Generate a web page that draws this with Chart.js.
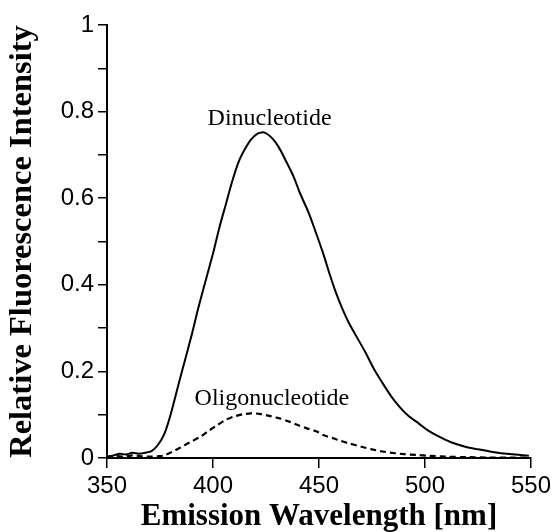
<!DOCTYPE html>
<html>
<head>
<meta charset="utf-8">
<script src="https://cdn.jsdelivr.net/npm/chart.js@4/dist/chart.umd.min.js"></script>
<style>
html,body{margin:0;padding:0;background:#fff;}
#wrap{width:555px;height:532px;}
</style>
</head>
<body>
<div id="wrap"><canvas id="c" width="555" height="532"></canvas></div>
<script>
// Data
const dinucWavelength = [350,353,356,359,362,365,368,371,374,377,380,384,387,390,393,397,400,403,406,409,412,415,418,421,423,425,428,431,434,438,441,445,448,452,455,458,461,464,468,472,476,480,484,488,492,497,501,506,512,519,525,532,540,549];
const dinucIntensity  = [0.003,0.006,0.010,0.008,0.012,0.010,0.012,0.016,0.030,0.055,0.100,0.175,0.230,0.285,0.345,0.418,0.472,0.532,0.585,0.638,0.683,0.713,0.736,0.749,0.752,0.750,0.738,0.718,0.690,0.650,0.612,0.568,0.528,0.472,0.425,0.382,0.345,0.313,0.278,0.243,0.205,0.173,0.143,0.118,0.098,0.080,0.065,0.051,0.037,0.026,0.020,0.014,0.009,0.005];

const oligoWavelength = [350,354,358,362,366,370,374,377,381,385,389,394,398,402,406,410,414,418,422,426,431,436,440,444,449,452,457,460,464,470,475,480,486,490,496,502,510,520,530,540,548];
const oligoIntensity  = [0.002,0.005,0.003,0.006,0.004,0.003,0.004,0.006,0.015,0.025,0.036,0.049,0.063,0.076,0.088,0.096,0.101,0.103,0.102,0.098,0.092,0.084,0.076,0.069,0.061,0.053,0.045,0.040,0.034,0.026,0.020,0.015,0.011,0.009,0.007,0.005,0.003,0.002,0.001,0.001,0.001];

const xTickMin = 350, xTickMax = 550, xTickStep = 50;
const yTickMin = 0, yTickMax = 1, yTickStep = 0.1;

const seriesNames = ['Dinucleotide','Oligonucleotide'];
const labelWavelength = [426.7, 427.8];
const labelIntensity  = [0.770, 0.1225];

const xTitle = 'Emission Wavelength [nm]';
const yTitle = 'Relative Fluorescence Intensity';

function toPoints(xs, ys){ return xs.map((x,i)=>({x:x,y:ys[i]})); }

const seriesLabelPlugin = {
  id:'seriesLabels',
  afterDatasetsDraw(chart){
    const ctx = chart.ctx, xs = chart.scales.x, ys = chart.scales.y;
    ctx.save();
    ctx.fillStyle = '#000';
    ctx.font = '24px "Liberation Serif", serif';
    ctx.textAlign = 'center';
    ctx.textBaseline = 'alphabetic';
    seriesNames.forEach((t,i)=>{
      ctx.fillText(t, xs.getPixelForValue(labelWavelength[i]), ys.getPixelForValue(labelIntensity[i]));
    });
    ctx.restore();
  }
};

new Chart(document.getElementById('c'), {
  type:'line',
  data:{
    datasets:[
      {label:seriesNames[0], data:toPoints(dinucWavelength,dinucIntensity), borderColor:'#000', borderWidth:2, pointRadius:0, tension:0.3, fill:false},
      {label:seriesNames[1], data:toPoints(oligoWavelength,oligoIntensity), borderColor:'#000', borderWidth:2.2, borderDash:[6,4], pointRadius:0, tension:0.3, fill:false}
    ]
  },
  options:{
    responsive:false,
    devicePixelRatio:1,
    animation:false,
    events:[],
    layout:{padding:{top:25,right:23,bottom:0,left:0}},
    plugins:{legend:{display:false},tooltip:{enabled:false}},
    scales:{
      x:{
        type:'linear', min:xTickMin, max:xTickMax,
        ticks:{stepSize:xTickStep, color:'#000', padding:4, maxRotation:0, font:{family:'"Liberation Sans", Arial, sans-serif', size:24}},
        grid:{display:true, drawOnChartArea:false, drawTicks:true, tickLength:10, color:'#000', lineWidth:1.5},
        border:{display:true, color:'#000', width:2},
        title:{display:true, text:xTitle, color:'#000', padding:{top:0,bottom:0}, font:{family:'"Liberation Serif", serif', size:31, weight:'bold', lineHeight:1}},
        afterFit(scale){ scale.height = 74; }
      },
      y:{
        type:'linear', min:yTickMin, max:yTickMax,
        ticks:{stepSize:yTickStep, color:'#000', padding:4,
          font:{family:'"Liberation Sans", Arial, sans-serif', size:24},
          callback(v){ const k=Math.round(v*10); if(k%2!==0) return ''; if(k===0) return '0'; if(k===10) return '1'; return (k/10).toFixed(1); }},
        grid:{display:true, drawOnChartArea:false, drawTicks:true, tickLength:9, color:'#000', lineWidth:1.5},
        border:{display:true, color:'#000', width:2},
        title:{display:true, text:yTitle, color:'#000', padding:{top:6,bottom:0}, font:{family:'"Liberation Serif", serif', size:32.5, weight:'bold', lineHeight:1}},
        afterFit(scale){ scale.width = 107; }
      }
    }
  },
  plugins:[seriesLabelPlugin]
});
</script>
</body>
</html>
